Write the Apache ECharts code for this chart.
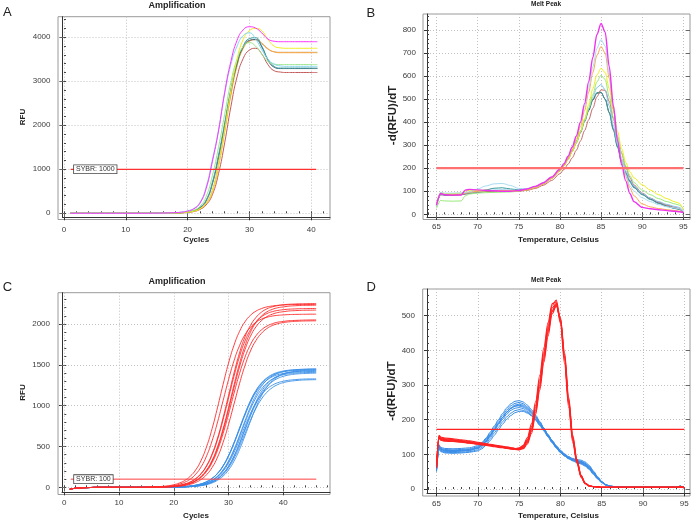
<!DOCTYPE html>
<html><head><meta charset="utf-8">
<script src="https://cdn.jsdelivr.net/npm/echarts@6/dist/echarts.min.js"></script>
<style>html,body{margin:0;padding:0;background:#fff}#c{width:700px;height:521px}</style>
</head><body><div id="c"></div>
<script>
const FONT = "'Liberation Sans', Arial, sans-serif";

// ---------- Panel A: Amplification (cycles 1..41) ----------
const cyclesA = [1,2,3,4,5,6,7,8,9,10,11,12,13,14,15,16,17,18,19,20,21,22,23,24,25,26,27,28,29,30,31,32,33,34,35,36,37,38,39,40,41];
const magentaA = [0,0,0,0,0,0,0,0,0,0,0,0,0,1,3,5,9,15,25,50,100,230,560,1170,1870,2750,3450,3930,4170,4240,4210,4100,3960,3910,3900,3900,3900,3900,3900,3900,3900];
const cyanA    = [0,0,0,0,0,0,0,0,0,0,0,0,0,1,3,5,9,15,28,55,110,250,600,1210,1890,2720,3380,3800,4040,4100,3960,3720,3500,3390,3350,3340,3340,3340,3340,3340,3340];
const greenA   = [0,0,0,0,0,0,0,0,0,0,0,0,0,1,2,3,5,10,18,35,70,160,380,850,1500,2250,2980,3500,3790,3880,3800,3620,3450,3390,3380,3380,3380,3380,3380,3380,3380];
const tealA    = [0,0,0,0,0,0,0,0,0,0,0,0,0,1,2,3,5,8,15,30,60,135,300,700,1320,2050,2820,3430,3800,3970,3990,3800,3500,3340,3300,3300,3300,3300,3300,3300,3300];
const slateA   = [0,0,0,0,0,0,0,0,0,0,0,0,0,1,2,3,4,7,14,28,55,125,280,660,1270,2000,2780,3400,3780,3930,3950,3780,3480,3320,3290,3290,3290,3290,3290,3290,3290];
const yellowA  = [0,0,0,0,0,0,0,0,0,0,0,0,0,1,2,3,4,6,12,24,48,105,230,500,1100,1900,2780,3500,3950,4150,4200,4150,3950,3800,3760,3750,3750,3750,3750,3750,3750];
const orangeA  = [0,0,0,0,0,0,0,0,0,0,0,0,0,1,2,3,4,6,12,23,45,100,220,480,1070,1850,2680,3350,3750,3910,3950,3870,3740,3670,3650,3650,3650,3650,3650,3650,3650];
const tanA     = [0,0,0,0,0,0,0,0,0,0,0,0,0,1,2,3,4,6,12,24,48,105,235,520,1120,1900,2720,3370,3760,3920,3940,3850,3730,3670,3660,3660,3660,3660,3660,3660,3660];
const brownA   = [0,0,0,0,0,0,0,0,0,0,0,0,0,1,2,3,4,5,10,20,40,88,190,420,900,1600,2420,3100,3520,3710,3750,3620,3380,3240,3210,3200,3200,3200,3200,3200,3200];
const thresholdA = 1000;
const xTicksA = [0,10,20,30,40];
const yTicksA = [0,1000,2000,3000,4000];

// ---------- Panel B: Melt Peak ----------
const tempsB = [65,65.5,66,67,68,68.5,69,70,71,72,73,74,75,76,77,78,79,80,80.5,81,81.5,82,82.5,83,83.5,84,84.5,85,85.5,86,86.5,87,87.5,88,88.5,89,90,91,92,93,94,94.5,95];
const magB = [40,90,85,83,84,105,108,106,104,102,100,100,103,110,121,137,162,196,220,252,292,340,400,480,575,680,780,828,790,640,470,320,215,145,90,55,30,24,20,16,13,11,8];
const lb1B = [35,95,92,92,93,95,98,110,123,132,134,125,112,112,120,136,160,195,220,252,292,340,400,470,550,640,720,758,730,610,470,340,240,170,125,100,72,55,42,33,27,24,12];
const orB  = [40,90,86,85,86,92,96,100,102,103,103,102,102,106,116,132,155,188,212,243,280,326,382,450,530,615,690,728,700,590,455,330,235,165,115,80,45,32,25,20,16,14,8];
const yeB  = [40,95,90,90,92,100,104,104,104,103,102,101,102,107,117,133,156,188,210,238,272,312,360,415,475,545,605,633,615,545,450,360,285,225,185,158,128,105,85,68,54,48,20];
const grB  = [25,60,58,57,58,80,88,92,94,95,96,97,100,106,116,132,155,187,210,238,271,310,356,405,460,520,575,603,585,510,420,335,265,210,168,138,105,85,68,55,45,40,25];
const lb2B = [38,92,88,88,89,92,94,98,102,105,106,105,104,108,118,135,160,195,218,245,278,315,360,410,460,510,550,563,540,470,385,305,240,188,150,122,90,70,55,43,34,30,15];
const brB  = [40,90,86,85,86,90,93,97,100,101,101,100,100,104,112,126,147,176,195,218,245,278,318,363,410,460,510,540,538,490,415,335,265,205,160,127,92,70,53,40,30,25,10];
const teB  = [40,88,85,85,88,90,92,98,106,113,115,110,106,110,120,136,160,195,218,245,278,317,360,408,455,500,528,530,500,440,365,290,225,175,140,115,85,64,47,34,25,22,10];
const slB  = [38,85,83,83,85,88,90,95,99,101,102,101,101,106,117,133,157,190,212,240,272,310,354,402,450,495,525,528,500,442,370,295,232,182,145,118,88,66,49,36,26,22,8];
const thresholdB = 200;
const xTicksB = [65,70,75,80,85,90,95];
const yTicksB = [0,100,200,300,400,500,600,700,800];

// ---------- Panel C: Amplification (cycles 1..46) ----------
const cyclesC = [1,2,3,4,5,6,7,8,9,10,11,12,13,14,15,16,17,18,19,20,21,22,23,24,25,26,27,28,29,30,31,32,33,34,35,36,37,38,39,40,41,42,43,44,45,46];
const redC1 = [-22,-12,-7,-4,-2,0,0,0,0,0,0,0,0,0,3,4,7,12,19,32,52,84,135,213,332,500,719,981,1259,1521,1740,1908,2027,2106,2157,2188,2209,2220,2228,2233,2236,2238,2238,2239,2239,2240];
const redC2 = [-22,-12,-7,-4,-2,0,0,0,0,0,0,0,0,0,2,3,5,9,14,23,38,62,100,161,252,386,570,801,1060,1319,1550,1734,1868,1959,2020,2059,2082,2097,2106,2111,2115,2117,2118,2119,2120,2120];
const redC3 = [-22,-12,-7,-4,-2,0,0,0,0,0,0,0,0,0,0,2,3,6,9,15,25,41,66,107,171,268,410,605,851,1125,1400,1645,1841,1982,2079,2144,2185,2210,2225,2235,2241,2244,2247,2248,2249,2250];
const redC4 = [-22,-12,-7,-4,-2,0,0,0,0,0,0,0,0,0,0,2,3,6,9,15,24,39,64,104,166,261,399,589,828,1095,1362,1601,1791,1929,2024,2087,2127,2151,2166,2175,2181,2184,2187,2188,2189,2190];
const redC5 = [-22,-12,-7,-4,-2,0,0,0,0,0,0,0,0,0,0,2,3,4,7,11,19,31,50,81,130,207,321,484,697,950,1220,1473,1686,1849,1964,2040,2090,2120,2140,2150,2159,2163,2166,2168,2169,2170];
const redC6 = [-22,-12,-7,-4,-2,0,0,0,0,0,0,0,0,0,0,2,3,4,7,11,20,32,51,83,134,213,330,497,716,976,1254,1514,1733,1900,2018,2096,2148,2179,2199,2209,2218,2223,2226,2228,2229,2230];
const redC7 = [-22,-12,-7,-4,-2,0,0,0,0,0,0,0,0,0,0,2,3,4,7,10,18,29,47,77,123,196,303,457,658,897,1153,1392,1593,1747,1855,1927,1974,2003,2022,2031,2040,2043,2046,2048,2049,2050];
const redC8 = [-22,-12,-7,-4,-2,0,0,0,0,0,0,0,0,0,0,0,2,3,5,8,14,22,37,60,97,155,243,371,549,771,1020,1269,1491,1669,1797,1885,1944,1981,2003,2018,2026,2032,2035,2037,2038,2039];
const blueC1 = [-22,-12,-7,-4,-2,0,0,0,0,0,0,0,0,0,0,0,0,1,2,4,6,10,16,26,42,69,110,173,264,390,548,725,902,1060,1186,1277,1340,1382,1408,1424,1434,1440,1444,1446,1448,1449];
const blueC2 = [-22,-12,-7,-4,-2,0,0,0,0,0,0,0,0,0,0,0,0,1,2,4,6,10,16,26,42,67,108,169,258,382,537,710,883,1038,1162,1251,1312,1353,1379,1394,1404,1410,1414,1416,1418,1419];
const blueC3 = [-22,-12,-7,-4,-2,0,0,0,0,0,0,0,0,0,0,0,0,1,2,4,6,10,16,26,42,68,109,171,262,387,544,720,896,1053,1178,1269,1331,1372,1398,1414,1424,1430,1434,1436,1438,1439];
const blueC4 = [-22,-12,-7,-4,-2,0,0,0,0,0,0,0,0,0,0,0,0,1,2,3,4,7,12,20,32,53,85,134,209,314,453,618,792,957,1096,1201,1276,1325,1358,1378,1390,1397,1403,1405,1407,1408];
const blueC5 = [-22,-12,-7,-4,-2,0,0,0,0,0,0,0,0,0,0,0,0,1,2,3,5,8,12,20,33,54,87,138,215,323,465,635,815,985,1127,1235,1312,1363,1396,1417,1430,1437,1442,1445,1447,1448];
const blueC6 = [-22,-12,-7,-4,-2,0,0,0,0,0,0,0,0,0,0,0,0,1,2,3,4,7,11,19,31,50,80,127,197,297,427,583,747,903,1033,1133,1204,1250,1281,1299,1311,1318,1323,1326,1327,1328];
const blueC7 = [-22,-12,-7,-4,-2,0,0,0,0,0,0,0,0,0,0,0,0,1,1,2,4,6,10,16,26,42,68,109,170,260,385,541,715,889,1045,1170,1260,1321,1363,1389,1404,1414,1420,1424,1426,1428];
const blueC8 = [-22,-12,-7,-4,-2,0,0,0,0,0,0,0,0,0,0,0,0,1,1,2,3,6,9,15,25,41,66,106,167,255,377,529,700,871,1023,1145,1233,1294,1334,1359,1375,1385,1391,1394,1397,1398];
const blueC9 = [-22,-12,-7,-4,-2,0,0,0,0,0,0,0,0,0,0,0,0,1,1,2,3,5,9,15,24,39,63,100,157,240,355,499,660,821,965,1080,1163,1220,1258,1282,1296,1305,1311,1315,1317,1318];
const blueC10 = [-22,-12,-7,-4,-2,0,0,0,0,0,0,0,0,0,0,0,0,0,1,2,3,5,8,12,20,33,54,87,137,213,321,462,631,809,978,1119,1227,1303,1354,1387,1407,1420,1427,1433,1435,1437];
const thresholdC = 100;
const xTicksC = [0,10,20,30,40];
const yTicksC = [0,500,1000,1500,2000];

// ---------- Panel D: Melt Peak ----------
const tempsD = [65,65.3,65.5,66,67,68,69,70,70.5,71,71.5,72,72.5,73,73.5,74,74.5,75,75.5,76,76.5,77,77.5,78,78.5,79,79.5,80,80.5,81,81.5,82,82.5,83,83.5,84,84.5,85,85.5,86,87,88,89,90,91,92,93,94,94.5,95];
const redD1 = [62,152,146,143,141,138,135,132,130,129,127,126,124,123,121,119,117,117,122,140,175,235,308,388,462,522,536,485,375,245,140,78,36,16,9,7,6,5,5,5,5,5,5,5,5,5,5,5,6,4];
const redD2 = [65,155,150,147,145,142,139,135,133,131,129,127,125,123,121,119,117,118,124,143,180,242,316,396,470,530,545,492,380,248,142,80,37,16,9,7,6,5,5,5,5,5,5,5,5,5,5,5,6,4];
const redD3 = [60,148,142,140,138,136,133,130,128,127,125,124,122,120,118,116,114,113,116,130,160,215,285,365,440,505,528,495,395,265,155,86,40,17,9,7,6,5,5,5,5,5,5,5,5,5,5,5,6,4];
const redD4 = [63,150,144,141,139,137,134,131,129,128,126,124,122,121,119,117,115,115,120,137,170,228,300,380,455,515,533,488,382,252,145,80,37,16,9,7,6,5,5,5,5,5,5,5,5,5,5,5,6,4];
const redD5 = [66,153,148,145,143,140,137,133,131,129,127,125,123,121,119,117,116,118,126,148,188,252,328,408,480,535,540,478,362,235,133,74,34,15,8,7,6,5,5,5,5,5,5,5,5,5,5,5,6,4];
const redD6 = [61,147,141,138,137,135,132,129,127,126,124,122,120,119,117,115,114,114,118,134,166,222,294,374,450,512,530,490,388,258,150,84,39,17,9,7,6,5,5,5,5,5,5,5,5,5,5,5,6,4];
const blueD1 = [55,125,116,112,111,112,114,120,128,140,156,173,190,207,222,233,239,240,236,228,217,203,187,170,152,135,119,106,96,88,82,78,74,68,58,44,30,19,12,8,6,5,5,5,5,5,5,5,8,4];
const blueD2 = [58,128,120,117,116,117,119,125,134,147,164,182,200,218,234,246,253,255,251,242,229,213,195,176,156,137,120,106,96,88,83,80,77,71,61,46,32,20,12,8,6,5,5,5,5,5,5,5,8,4];
const blueD3 = [52,118,110,106,105,106,108,113,120,131,146,162,178,194,208,219,226,229,227,221,212,200,186,170,153,137,122,109,98,90,84,79,75,69,59,45,31,19,12,8,6,5,5,5,5,5,5,5,8,4];
const blueD4 = [56,124,115,111,110,111,113,118,126,138,154,171,189,206,222,234,242,245,242,234,222,208,192,175,157,140,124,111,101,93,88,85,83,78,68,52,36,22,13,8,6,5,5,5,5,5,5,5,8,4];
const blueD5 = [54,120,112,108,108,109,111,117,124,136,151,168,185,201,216,227,233,235,232,224,213,199,183,167,150,133,118,105,95,87,81,76,72,66,56,42,29,18,11,8,6,5,5,5,5,5,5,5,8,4];
const blueD6 = [57,126,118,114,113,114,116,122,131,144,160,178,196,213,228,240,247,250,246,237,225,210,193,175,156,138,122,108,98,90,85,82,80,75,65,50,34,21,12,8,6,5,5,5,5,5,5,5,8,4];
const blueD7 = [50,115,108,104,103,104,106,110,116,126,140,155,171,187,201,212,220,224,224,219,211,200,187,172,156,140,125,112,101,93,87,82,79,74,64,49,33,20,12,8,6,5,5,5,5,5,5,5,8,4];
const blueD8 = [55,122,114,110,109,110,112,118,126,139,155,172,190,206,221,232,239,242,239,231,220,206,190,173,155,138,122,109,99,91,85,81,78,72,62,47,32,20,12,8,6,5,5,5,5,5,5,5,8,4];
const thresholdD = 172;
const xTicksD = [65,70,75,80,85,90,95];
const yTicksD = [0,100,200,300,400,500];

// ---------- helpers ----------
function steps(a, b, s) { const r = []; for (let v = a; v <= b + 1e-9; v += s) r.push(+v.toFixed(4)); return r; }

const panels = [
  { box: [58, 16.7, 330, 219.5], grid: [62.5, 16.7, 330, 217.3],
    x: { min: -0.24, max: 43.04, major: xTicksA, minor: steps(0, 42, 2), name: 'Cycles', gap: 18.7, margin: 8 },
    y: { min: -91, max: 4468, major: yTicksA, minor: steps(0, 4400, 200), name: 'RFU', gap: 36, margin: 12, nameSize: 8 } },
  { box: [423, 14, 690, 219.5], grid: [427, 14, 690, 217],
    x: { min: 63.85, max: 95.81, major: xTicksB, minor: steps(64, 95, 1), name: 'Temperature, Celsius', gap: 18.7, margin: 6 },
    y: { min: -11.7, max: 869, major: yTicksB, minor: steps(0, 860, 20), name: '-d(RFU)/dT', gap: 27.5, margin: 11, nameSize: 11.5 } },
  { box: [58, 292.7, 330, 494.5], grid: [62, 292.7, 330, 492.3],
    x: { min: -0.42, max: 48.53, major: xTicksC, minor: steps(0, 48, 2), name: 'Cycles', gap: 19, margin: 6.5 },
    y: { min: -61, max: 2383, major: yTicksC, minor: steps(0, 2300, 100), name: 'RFU', gap: 35.5, margin: 12, nameSize: 8 } },
  { box: [422.7, 289, 690, 496], grid: [427, 289, 690, 493.3],
    x: { min: 63.85, max: 95.69, major: xTicksD, minor: steps(64, 95, 1), name: 'Temperature, Celsius', gap: 18.7, margin: 6.4 },
    y: { min: -12.4, max: 577, major: yTicksD, minor: steps(0, 560, 20), name: '-d(RFU)/dT', gap: 27.5, margin: 12, nameSize: 11.5 } }
];

const grids = [], xAxes = [], yAxes = [], graphics = [];
const plainNum = v => String(v);
panels.forEach((p, gi) => {
  const [l, t, r, b] = p.grid;
  grids.push({ left: l, top: t, width: r - l, height: b - t, containLabel: false, outerBoundsMode: 'none', show: false });
  const [bl, bt, br, bb] = p.box;
  graphics.push({ type: 'rect', silent: true, z: -10, shape: { x: bl, y: bt, width: br - bl, height: bb - bt }, style: { fill: 'none', stroke: '#9a9a9a', lineWidth: 1 } });
  const X = p.x, Y = p.y;
  const lbl = { fontSize: 8, color: '#3c3c3c', fontFamily: FONT, formatter: plainNum };
  xAxes.push(
    { type: 'value', gridIndex: gi, min: X.min, max: X.max, position: 'bottom',
      axisLine: { show: true, onZero: false, lineStyle: { color: '#333', width: 1 } },
      axisTick: { show: true, customValues: X.major, length: 3, lineStyle: { color: '#333' } },
      axisLabel: Object.assign({ show: true, customValues: X.major, margin: X.margin }, lbl),
      splitLine: { show: true, lineStyle: { color: '#c2c2c2', type: [1, 2], width: 1 } },
      name: X.name, nameLocation: 'middle', nameGap: X.gap,
      nameTextStyle: { fontSize: 8, fontWeight: 'bold', color: '#222', fontFamily: FONT } },
    { type: 'value', gridIndex: gi, min: X.min, max: X.max, position: 'bottom',
      axisLine: { show: false }, axisTick: { show: true, inside: true, customValues: X.minor, length: 2, lineStyle: { color: '#444' } },
      axisLabel: { show: false }, splitLine: { show: false } },
    { type: 'value', gridIndex: gi, min: X.min, max: X.max, position: 'top',
      axisLine: { show: false }, axisTick: { show: true, inside: true, customValues: X.major, length: 4, lineStyle: { color: '#666' } },
      axisLabel: { show: false }, splitLine: { show: false } }
  );
  yAxes.push(
    { type: 'value', gridIndex: gi, min: Y.min, max: Y.max, position: 'left',
      axisLine: { show: true, onZero: false, lineStyle: { color: '#333', width: 1 } },
      axisTick: { show: true, customValues: Y.major, length: 3, lineStyle: { color: '#333' } },
      axisLabel: Object.assign({ show: true, customValues: Y.major, margin: Y.margin }, lbl),
      splitLine: { show: true, lineStyle: { color: '#c2c2c2', type: [1, 2], width: 1 } },
      name: Y.name, nameLocation: 'middle', nameGap: Y.gap, nameRotate: 90,
      nameTextStyle: { fontSize: Y.nameSize, fontWeight: 'bold', color: '#222', fontFamily: FONT } },
    { type: 'value', gridIndex: gi, min: Y.min, max: Y.max, position: 'left',
      axisLine: { show: false }, axisTick: { show: true, inside: true, customValues: Y.minor, length: 2, lineStyle: { color: '#444' } },
      axisLabel: { show: false }, splitLine: { show: false } },
    { type: 'value', gridIndex: gi, min: Y.min, max: Y.max, position: 'right',
      axisLine: { show: false }, axisTick: { show: true, inside: true, customValues: Y.major, length: 4, lineStyle: { color: '#666' } },
      axisLabel: { show: false }, splitLine: { show: false } }
  );
});

function curve(gi, xs, ys, color, width, smooth, mono) {
  const s = { type: 'line', xAxisIndex: gi * 3, yAxisIndex: gi * 3, data: xs.map((x, i) => [x, ys[i]]),
    symbol: 'none', showSymbol: false, smooth: smooth, silent: true,
    lineStyle: { color: color, width: width }, itemStyle: { color: color }, emphasis: { disabled: true }, z: 3 };
  if (mono) s.smoothMonotone = 'x';
  return s;
}
function thresh(gi, x0, x1, y, color, width, text) {
  const first = { value: [x0, y] };
  if (text) first.label = { show: true, position: 'right', distance: 3, formatter: text, fontSize: 7, lineHeight: 8,
    fontFamily: FONT, color: '#333', backgroundColor: '#fff', borderColor: '#444', borderWidth: 0.8, padding: [0, 2, 0, 2] };
  return { type: 'line', xAxisIndex: gi * 3, yAxisIndex: gi * 3, data: [first, { value: [x1, y] }],
    symbol: 'circle', symbolSize: 0.5, showSymbol: true, silent: true, label: { show: false },
    lineStyle: { color: color, width: width }, itemStyle: { color: color }, emphasis: { disabled: true }, z: 5 };
}

const series = [];
// A
const colA = { magenta: '#ff33ff', cyan: '#86d6ee', green: '#9ee68e', teal: '#3a9e9e', slate: '#4a6278', yellow: '#eeee22', orange: '#ffa235', tan: '#c4b494', brown: '#c45a5a' };
[[brownA, colA.brown], [tanA, colA.tan], [orangeA, colA.orange], [slateA, colA.slate], [tealA, colA.teal],
 [greenA, colA.green], [yellowA, colA.yellow], [cyanA, colA.cyan], [magentaA, colA.magenta]]
  .forEach(([d, c]) => series.push(curve(0, cyclesA, d, c, 1, 0.5, false)));
series.push(thresh(0, 1.1, 40.8, thresholdA, '#ff3030', 1.2, 'SYBR: 1000'));
// B
[[slB, '#3f5568'], [teB, '#3a9a9a'], [brB, '#c46a6a'], [lb2B, '#88c4ee'], [grB, '#9aea7a'], [yeB, '#eeee20'],
 [orB, '#ffa64d'], [lb1B, '#a8dcf0'], [magB, '#ee33ee']]
  .forEach(([d, c]) => series.push(curve(1, tempsB, d, c, c === '#ee33ee' ? 1.4 : 1, 0.3, true)));
series.push(thresh(1, 65, 95, thresholdB, '#ff7070', 2.2, null));
// C
[blueC1, blueC2, blueC3, blueC4, blueC5, blueC6, blueC7, blueC8, blueC9, blueC10]
  .forEach(d => series.push(curve(2, cyclesC, d, '#3a8ee8', 0.9, 0.5, false)));
[redC1, redC2, redC3, redC4, redC5, redC6, redC7, redC8]
  .forEach(d => series.push(curve(2, cyclesC, d, '#ff2a2a', 0.9, 0.5, false)));
series.push(thresh(2, 1.2, 46, thresholdC, '#ff4040', 1, 'SYBR: 100'));
// D
[blueD1, blueD2, blueD3, blueD4, blueD5, blueD6, blueD7, blueD8]
  .forEach(d => series.push(curve(3, tempsD, d, '#3a8ee8', 1, 0.3, true)));
[redD1, redD2, redD3, redD4, redD5, redD6]
  .forEach(d => series.push(curve(3, tempsD, d, '#ff2222', 1.1, 0.3, true)));
series.push(thresh(3, 65, 95, thresholdD, '#ff2020', 1.3, null));

const titleStyle = (size, weight) => ({ fontSize: size, fontWeight: weight, color: '#222', fontFamily: FONT });
const titles = [
  { text: 'Amplification', left: 177, top: 1, textAlign: 'center', padding: 0, textStyle: titleStyle(9, 'bold') },
  { text: 'Melt Peak', left: 546, top: 1, textAlign: 'center', padding: 0, textStyle: titleStyle(6.5, 'bold') },
  { text: 'Amplification', left: 177, top: 277, textAlign: 'center', padding: 0, textStyle: titleStyle(9, 'bold') },
  { text: 'Melt Peak', left: 546, top: 276.5, textAlign: 'center', padding: 0, textStyle: titleStyle(6.5, 'bold') },
  { text: 'A', left: 3, top: 6, padding: 0, textStyle: titleStyle(13, 'normal') },
  { text: 'B', left: 366.5, top: 7, padding: 0, textStyle: titleStyle(13, 'normal') },
  { text: 'C', left: 2.7, top: 280.5, padding: 0, textStyle: titleStyle(13, 'normal') },
  { text: 'D', left: 366.5, top: 280.5, padding: 0, textStyle: titleStyle(13, 'normal') }
];

const chart = echarts.init(document.getElementById('c'), null, { renderer: 'canvas' });
chart.setOption({
  animation: false,
  backgroundColor: '#fff',
  title: titles,
  grid: grids,
  xAxis: xAxes,
  yAxis: yAxes,
  graphic: graphics,
  series: series
});
</script>
</body></html>
